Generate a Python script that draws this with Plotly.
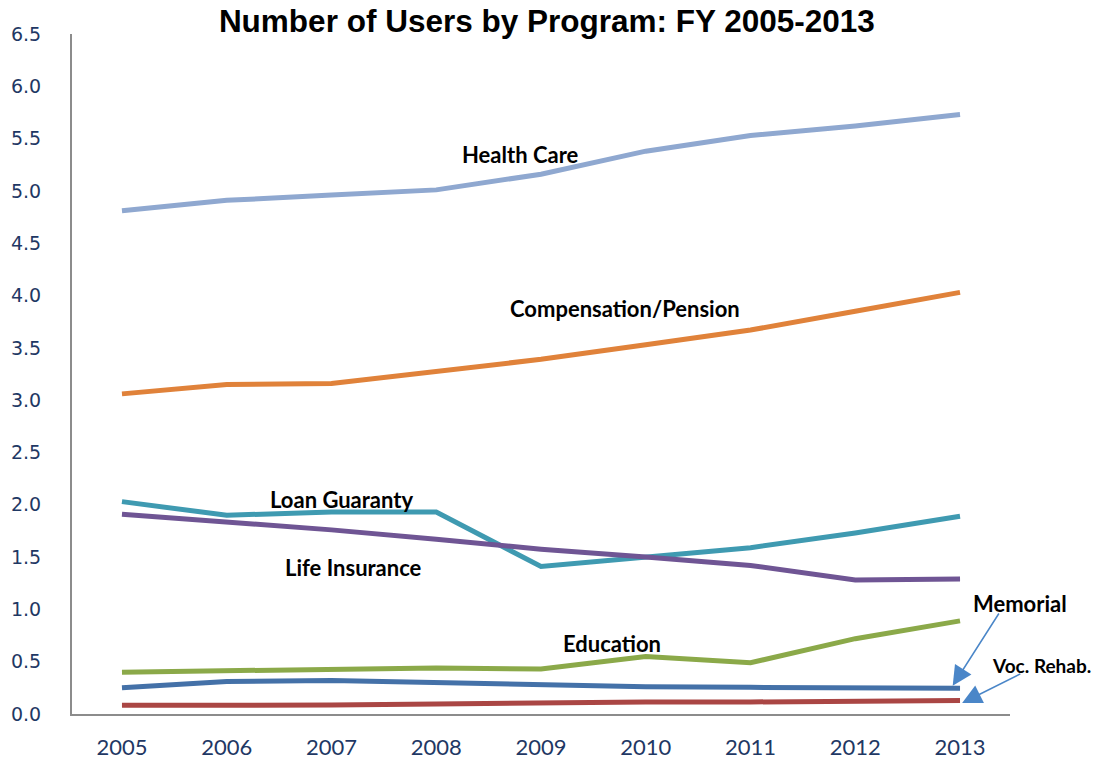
import plotly.graph_objects as go

years = [2005, 2006, 2007, 2008, 2009, 2010, 2011, 2012, 2013]
health_care = [4.81, 4.91, 4.96, 5.01, 5.16, 5.38, 5.53, 5.62, 5.73]
compensation = [3.06, 3.15, 3.16, 3.28, 3.39, 3.53, 3.67, 3.85, 4.03]
loan_guaranty = [2.03, 1.90, 1.93, 1.93, 1.41, 1.50, 1.59, 1.73, 1.89]
life_insurance = [1.91, 1.84, 1.76, 1.67, 1.575, 1.50, 1.42, 1.28, 1.29]
education = [0.40, 0.41, 0.42, 0.44, 0.43, 0.55, 0.49, 0.72, 0.89]
memorial = [0.25, 0.31, 0.32, 0.30, 0.285, 0.26, 0.255, 0.245, 0.245]
voc_rehab = [0.083, 0.083, 0.085, 0.095, 0.11, 0.115, 0.115, 0.12, 0.13]
y_ticks = [0.0, 0.5, 1.0, 1.5, 2.0, 2.5, 3.0, 3.5, 4.0, 4.5, 5.0, 5.5, 6.0, 6.5]

series = [
    ("Health Care", health_care, "#8FA8D0"),
    ("Compensation/Pension", compensation, "#E0823A"),
    ("Loan Guaranty", loan_guaranty, "#3F9AB1"),
    ("Life Insurance", life_insurance, "#6F5594"),
    ("Education", education, "#8BA949"),
    ("Memorial", memorial, "#4471A8"),
    ("Voc. Rehab.", voc_rehab, "#AA4644"),
]

fig = go.Figure()
for name, vals, color in series:
    fig.add_trace(go.Scatter(x=years, y=vals, mode="lines", name=name,
                             line=dict(color=color, width=5)))

FONT = "Lato, Open Sans, sans-serif"
label_font = dict(family=FONT, size=22, color="#000000")
labels = [
    ("Health Care", 2008.80, 5.35),
    ("Compensation/Pension", 2009.80, 3.88),
    ("Loan Guaranty", 2007.10, 2.05),
    ("Life Insurance", 2007.21, 1.40),
    ("Education", 2009.68, 0.67),
]
for text, x, y in labels:
    fig.add_annotation(x=x, y=y, text="<b>%s</b>" % text, showarrow=False,
                       font=label_font, xanchor="center", yanchor="middle")

fig.add_annotation(x=2012.93, y=0.27, ax=2013.38, ay=0.975,
                   axref="x", ayref="y", xref="x", yref="y",
                   text="", showarrow=True, arrowhead=2, arrowsize=2.6,
                   arrowwidth=1.5, arrowcolor="#4A86C8")
fig.add_annotation(x=2013.10, y=1.06, text="<b>Memorial</b>", showarrow=False,
                   font=label_font, xanchor="left", yanchor="middle")
fig.add_annotation(x=2013.02, y=0.105, ax=2013.59, ay=0.39,
                   axref="x", ayref="y", xref="x", yref="y",
                   text="", showarrow=True, arrowhead=2, arrowsize=2.6,
                   arrowwidth=1.5, arrowcolor="#4A86C8")
fig.add_annotation(x=2013.29, y=0.46, text="<b>Voc. Rehab.</b>", showarrow=False,
                   font=dict(family=FONT, size=19, color="#000000"),
                   xanchor="left", yanchor="middle", xref="x", yref="y")

fig.update_layout(
    width=1107, height=761,
    margin=dict(l=72, r=97, t=34, b=47, autoexpand=False),
    paper_bgcolor="white", plot_bgcolor="white",
    showlegend=False,
    title=dict(text="<b>Number of Users by Program: FY 2005-2013</b>",
               x=0.494, xanchor="center", y=0.972, yanchor="middle",
               font=dict(family="Liberation Sans, Arial, sans-serif", size=31.5, color="#000000")),
    xaxis=dict(range=[2004.523, 2013.477], tickmode="array", tickvals=years,
               ticktext=[str(y) for y in years], showgrid=False, zeroline=False,
               showline=True, linecolor="#8C8C8C", linewidth=2, ticks="",
               ticklabelstandoff=13, automargin=False,
               tickfont=dict(family=FONT, size=22, color="#1F3864")),
    yaxis=dict(range=[0, 6.5], tickmode="array", tickvals=y_ticks,
               ticktext=["%.1f" % v for v in y_ticks], showgrid=False, zeroline=False,
               showline=True, linecolor="#8C8C8C", linewidth=2, ticks="",
               ticklabelstandoff=25, automargin=False,
               tickfont=dict(family="DejaVu Sans, Verdana, sans-serif", size=19, color="#1F3864")),
)

fig.write_html("out.html")
